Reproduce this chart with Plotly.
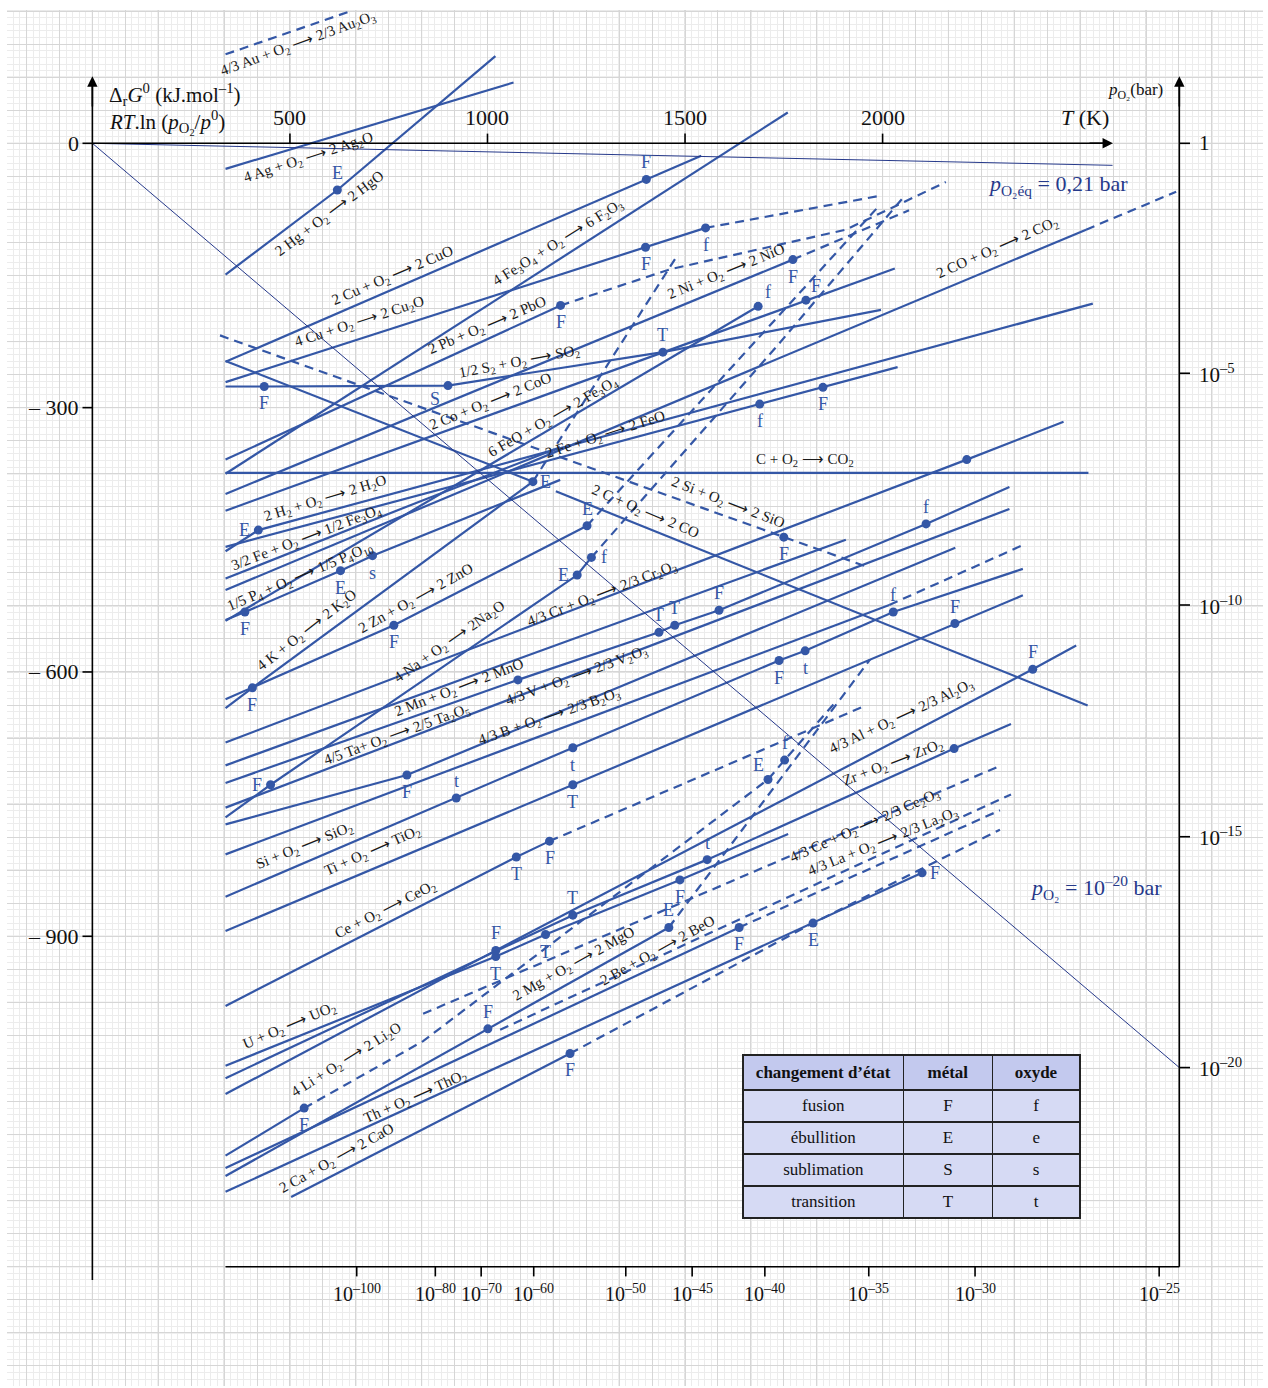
import plotly.graph_objects as go

BLUE = "#3457a6"
NAVY = "#26398a"
SERIF = "Liberation Serif, Times New Roman, serif"

# ---------- reaction lines : T (K), ΔrG° (kJ per mol O2) ----------
au_T, au_G = [337, 660], [101, 151]                      # dashed
ag_T, ag_G = [337, 1066], [-29, 69]
hg_T, hg_G = [337, 620, 1020], [-149, -53, 99]
cuo_T, cuo_G = [337, 1402, 1541], [-248, -41, -14]
cu2o_T, cu2o_G = [337, 1400, 1552], [-271, -118, -96]
cu2o_d_T, cu2o_d_G = [1552, 1988], [-96, -60]
fe2o3_T, fe2o3_G = [337, 1760], [-375, 35]
pbo_T, pbo_G = [337, 1185], [-359, -184]
pbo_d_T, pbo_d_G = [1185, 1462, 1907, 2160], [-184, -143, -98, -44]
nio_T, nio_G = [337, 1773], [-398, -132]
nio_d_T, nio_d_G = [1773, 2067], [-132, -76]
so2_T, so2_G = [337, 435, 900, 1444, 1996], [-276, -276, -275, -237, -189]
co2a_T, co2a_G = [337, 2515], [-507, -98]
co2a_d_T, co2a_d_G = [2515, 2743], [-98, -55]
co2b_T, co2b_G = [337, 2521], [-374, -374]
co1_T, co1_G = [337, 1115], [-247, -384]
co2_T, co2_G = [1173, 2519], [-395, -638]
sio_T, sio_G = [323, 1750, 1963], [-218, -447, -481]     # dashed
h2o_T, h2o_G = [337, 420, 2532], [-463, -439, -182]
feo_T, feo_G = [337, 1689, 1849, 2038], [-458, -296, -277, -254]
fe3o4_T, fe3o4_G = [337, 837, 1184], [-494, -405, -345]
feo2_T, feo2_G = [337, 1685], [-542, -185]
coo_T, coo_G = [337, 1806, 2031], [-417, -178, -142]
p4o10_T, p4o10_G = [337, 386, 628, 709, 1184], [-541, -532, -485, -468, -382]
k2o_T, k2o_G = [337, 405, 1115], [-641, -618, -384]
k2o_d_T, k2o_d_G = [1115, 1478], [-384, -129]
zno_T, zno_G = [337, 763, 1252], [-631, -547, -434]
zno_d_T, zno_d_G = [1252, 1993], [-434, -70]
na2o_T, na2o_G = [337, 451, 1227, 1263], [-765, -728, -490, -470]
na2o_d_T, na2o_d_G = [1263, 1731, 2057], [-470, -231, -59]
cr2o3_T, cr2o3_G = [337, 2213, 2458], [-680, -359, -316]
v2o3_T, v2o3_G = [337, 1907], [-706, -450]
mno_T, mno_G = [337, 1077, 1434, 1474, 1586, 2110, 2321], [-726, -609, -555, -547, -530, -432, -390]
ta2o5_T, ta2o5_G = [337, 2321], [-754, -415]
l824_T, l824_G = [337, 796, 2184], [-773, -717, -459]
b2o3_T, b2o3_G = [337, 2017], [-807, -524]
b2o3_d_T, b2o3_d_G = [2017, 2355], [-524, -456]
sio2_T = [337, 921, 1216, 1738, 1804, 2027, 2355]
sio2_G = [-855, -743, -686, -587, -576, -532, -483]
tio2_T, tio2_G = [337, 1216, 2183, 2355], [-894, -728, -545, -513]
ceo2_T, ceo2_G = [337, 1073, 1157], [-979, -810, -792]
ceo2_d_T, ceo2_d_G = [1157, 1958], [-792, -638]
uo2_T, uo2_G = [337, 1021, 1147, 1487, 1761], [-1047, -923, -898, -836, -784]
zro2_T, zro2_G = [337, 1216, 1556, 2181, 2325], [-1061, -876, -813, -687, -659]
al2o3_T, al2o3_G = [337, 1021, 2380, 2490], [-1079, -916, -597, -570]
li2o_T, li2o_G = [337, 536], [-1149, -1095]
li2o_d_T, li2o_d_G = [536, 837, 1710, 1752, 1883], [-1095, -1019, -722, -700, -633]
mgo_T, mgo_G = [337, 1001, 1459], [-1172, -1005, -890]
mgo_d_T, mgo_d_G = [1459, 1968], [-890, -586]
beo_T, beo_G = [337, 1637], [-1163, -890]
beo_d_T, beo_d_G = [1637, 2297], [-890, -757]
cao_T, cao_G = [503, 1209], [-1196, -1033]
cao_d_T, cao_d_G = [1209, 1824, 2297], [-1033, -885, -779]
tho2_T, tho2_G = [337, 2100], [-1190, -828]
ce2o3_T, ce2o3_G = [837, 2300], [-988, -706]           # dashed
la2o3_T, la2o3_G = [1032, 2325], [-1006, -739]         # dashed

solid_lines = [ag_T, ag_G, hg_T, hg_G, cuo_T, cuo_G, cu2o_T, cu2o_G, fe2o3_T, fe2o3_G,
               pbo_T, pbo_G, nio_T, nio_G, so2_T, so2_G, co2a_T, co2a_G, co2b_T, co2b_G,
               co1_T, co1_G, co2_T, co2_G, h2o_T, h2o_G, feo_T, feo_G, fe3o4_T, fe3o4_G,
               feo2_T, feo2_G, coo_T, coo_G, p4o10_T, p4o10_G, k2o_T, k2o_G, zno_T, zno_G,
               na2o_T, na2o_G, cr2o3_T, cr2o3_G, v2o3_T, v2o3_G, mno_T, mno_G,
               ta2o5_T, ta2o5_G, l824_T, l824_G, b2o3_T, b2o3_G, sio2_T, sio2_G,
               tio2_T, tio2_G, ceo2_T, ceo2_G, uo2_T, uo2_G, zro2_T, zro2_G,
               al2o3_T, al2o3_G, li2o_T, li2o_G, mgo_T, mgo_G, beo_T, beo_G,
               cao_T, cao_G, tho2_T, tho2_G]
dashed_lines = [au_T, au_G, cu2o_d_T, cu2o_d_G, pbo_d_T, pbo_d_G, nio_d_T, nio_d_G,
                co2a_d_T, co2a_d_G, sio_T, sio_G, k2o_d_T, k2o_d_G, zno_d_T, zno_d_G,
                na2o_d_T, na2o_d_G, b2o3_d_T, b2o3_d_G, ceo2_d_T, ceo2_d_G,
                li2o_d_T, li2o_d_G, mgo_d_T, mgo_d_G, beo_d_T, beo_d_G,
                cao_d_T, cao_d_G, ce2o3_T, ce2o3_G, la2o3_T, la2o3_G]

# ---------- changes of state (dots) ----------
pts_T = [620, 1402, 1400, 1552, 1185, 1773, 435, 900, 1444, 1750, 420, 1689, 1849, 1806,
         1685, 386, 628, 709, 405, 1115, 763, 1252, 451, 1227, 1263, 2213, 1077, 1434, 1474,
         1586, 2110, 796, 921, 1216, 1738, 1804, 2027, 1216, 2183, 1073, 1157, 1021, 1147,
         1487, 1216, 1556, 2181, 1021, 2380, 536, 1710, 1752, 1001, 1459, 1637, 1209, 1824, 2100]
pts_G = [-53, -41, -118, -96, -184, -132, -276, -275, -237, -447, -439, -296, -277, -178,
         -185, -532, -485, -468, -618, -384, -547, -434, -728, -490, -470, -359, -609, -555, -547,
         -530, -432, -717, -743, -686, -587, -576, -532, -728, -545, -810, -792, -923, -898,
         -836, -876, -813, -687, -916, -597, -1095, -722, -700, -1005, -890, -890, -1033, -885, -828]
pts_lbl = ["E", "F", "F", "f", "F", "F", "F", "S", "T", "F", "E", "f", "F", "F",
           "f", "F", "E", "s", "F", "E", "F", "E", "F", "E", "f", "", "", "T", "T",
           "F", "f", "F", "t", "t", "F", "t", "f", "T", "F", "T", "F", "T", "T",
           "F", "T", "t", "", "F", "F", "F", "E", "f", "F", "E", "F", "F", "E", "F"]
# label side: a = above, b = below, l = left, r = right
pts_side = ["a", "a", "b", "b", "b", "b", "b", "bl", "a", "b", "l", "b", "b", "ar",
            "ar", "b", "b", "b", "b", "r", "b", "a", "l", "l", "r", "a", "a", "a", "a",
            "a", "a", "b", "a", "b", "b", "b", "a", "b", "a", "b", "b", "b", "b",
            "b", "a", "a", "a", "a", "a", "b", "al", "a", "a", "a", "b", "b", "b", "r"]

# ---------- reaction labels : text, T, G, angle ----------
eq_labels = [
    ("4/3 Au + O<sub>2</sub> ⟶ 2/3 Au<sub>2</sub>O<sub>3</sub>", 520, 113, -20),
    ("4 Ag + O<sub>2</sub> ⟶ 2 Ag<sub>2</sub>O", 546, -17, -18),
    ("2 Hg + O<sub>2</sub> ⟶ 2 HgO", 601, -80, -37),
    ("2 Cu + O<sub>2</sub> ⟶ 2 CuO", 761, -151, -23),
    ("4 Cu + O<sub>2</sub> ⟶ 2 Cu<sub>2</sub>O", 677, -203, -18),
    ("4 Fe<sub>3</sub>O<sub>4</sub> + O<sub>2</sub> ⟶ 6 F<sub>2</sub>O<sub>3</sub>", 1178, -113, -32),
    ("2 Pb + O<sub>2</sub> ⟶ 2 PbO", 999, -207, -23),
    ("2 Ni + O<sub>2</sub> ⟶ 2 NiO", 1606, -146, -22),
    ("2 CO + O<sub>2</sub> ⟶ 2 CO<sub>2</sub>", 2292, -119, -24),
    ("1/2 S<sub>2</sub> + O<sub>2</sub> ⟶ SO<sub>2</sub>", 1082, -248, -11),
    ("2 Co + O<sub>2</sub> ⟶ 2 CoO", 1009, -294, -22),
    ("6 FeO + O<sub>2</sub> ⟶ 2 Fe<sub>3</sub>O<sub>4</sub>", 1168, -311, -30),
    ("2 Fe + O<sub>2</sub> ⟶ 2 FeO", 1299, -331, -18),
    ("C + O<sub>2</sub> ⟶ CO<sub>2</sub>", 1804, -359, 0),
    ("2 C + O<sub>2</sub> ⟶ 2 CO", 1399, -418, 23),
    ("2 Si + O<sub>2</sub> ⟶ 2 SiO", 1609, -408, 21),
    ("2 H<sub>2</sub> + O<sub>2</sub> ⟶ 2 H<sub>2</sub>O", 589, -404, -17),
    ("3/2 Fe + O<sub>2</sub> ⟶ 1/2 Fe<sub>3</sub>O<sub>4</sub>", 543, -448, -21),
    ("1/5 P<sub>4</sub> + O<sub>2</sub> ⟶ 1/5 P<sub>4</sub>O<sub>10</sub>", 525, -492, -23),
    ("4 K + O<sub>2</sub> ⟶ 2 K<sub>2</sub>O", 542, -553, -38),
    ("2 Zn + O<sub>2</sub> ⟶ 2 ZnO", 819, -517, -29),
    ("4 Na + O<sub>2</sub> ⟶ 2Na<sub>2</sub>O", 905, -566, -35),
    ("4/3 Cr + O<sub>2</sub> ⟶ 2/3 Cr<sub>2</sub>O<sub>3</sub>", 1292, -512, -21),
    ("2 Mn + O<sub>2</sub> ⟶ 2 MnO", 930, -618, -21),
    ("4/3 V + O<sub>2</sub> ⟶ 2/3 V<sub>2</sub>O<sub>3</sub>", 1227, -605, -20),
    ("4/3 B + O<sub>2</sub> ⟶ 2/3 B<sub>2</sub>O<sub>3</sub>", 1156, -651, -19),
    ("4/5 Ta+ O<sub>2</sub> ⟶ 2/5 Ta<sub>2</sub>O<sub>5</sub>", 771, -672, -20),
    ("Si + O<sub>2</sub> ⟶ SiO<sub>2</sub>", 538, -797, -22),
    ("Ti + O<sub>2</sub> ⟶ TiO<sub>2</sub>", 710, -803, -24),
    ("Ce + O<sub>2</sub> ⟶ CeO<sub>2</sub>", 742, -870, -27),
    ("U + O<sub>2</sub> ⟶ UO<sub>2</sub>", 500, -1002, -23),
    ("4 Li + O<sub>2</sub> ⟶ 2 Li<sub>2</sub>O", 644, -1040, -32),
    ("Th + O<sub>2</sub> ⟶ ThO<sub>2</sub>", 818, -1082, -24),
    ("2 Ca + O<sub>2</sub> ⟶ 2 CaO", 618, -1153, -29),
    ("2 Mg + O<sub>2</sub> ⟶ 2 MgO", 1221, -932, -29),
    ("2 Be + O<sub>2</sub> ⟶ 2 BeO", 1432, -917, -29),
    ("4/3 Al + O<sub>2</sub> ⟶ 2/3 Al<sub>2</sub>O<sub>3</sub>", 2047, -651, -25),
    ("Zr + O<sub>2</sub> ⟶ ZrO<sub>2</sub>", 2026, -703, -21),
    ("4/3 Ce + O<sub>2</sub> ⟶ 2/3 Ce<sub>2</sub>O<sub>3</sub>", 1955, -775, -24),
    ("4/3 La + O<sub>2</sub> ⟶ 2/3 La<sub>2</sub>O<sub>3</sub>", 2001, -793, -22),
]

# ---------- axes / scales ----------
T_ticks = [500, 1000, 1500, 2000]
G_ticks = [0, -300, -600, -900]
G_tick_text = ["0", "– 300", "– 600", "– 900"]
p_right_G = [0, -261, -524, -787, -1049]
p_right_text = ["1", "10<sup>–5</sup>", "10<sup>–10</sup>", "10<sup>–15</sup>", "10<sup>–20</sup>"]
p_bottom_T = [669, 868, 984, 1117, 1350, 1518, 1702, 1965, 2234, 2700]
p_bottom_exp = [100, 80, 70, 60, 50, 45, 40, 35, 30, 25]
p021_T, p021_G = [0, 2582], [0, -25]
p1e20_T, p1e20_G = [0, 2751], [0, -1049]
T_right_axis = 2751
G_bottom_axis = -1275
X_RANGE = [-216.1, 2962.8]
Y_RANGE = [-1410.4, 151.3]

table_header = ["changement d’état", "métal", "oxyde"]
table_rows = [["fusion", "ébullition", "sublimation", "transition"],
              ["F", "E", "S", "T"],
              ["f", "e", "s", "t"]]

fig = go.Figure()

# graph paper: darker line every two cells
cell_T, cell_G = 500 / 6, 37.5
for k in range(-1, 18):
    t = 2 * cell_T * k
    fig.add_shape(type="line", x0=t, x1=t, y0=Y_RANGE[0], y1=Y_RANGE[1], layer="below",
                  line=dict(color="#c4c4c4", width=1))
for k in range(-19, 3):
    g = 2 * cell_G * k
    fig.add_shape(type="line", x0=X_RANGE[0], x1=X_RANGE[1], y0=g, y1=g, layer="below",
                  line=dict(color="#c4c4c4", width=1))


def add_line(T, G, dash, width=2.2, color=BLUE):
    fig.add_trace(go.Scatter(x=T, y=G, mode="lines", hoverinfo="skip", showlegend=False,
                             line=dict(color=color, width=width, dash=dash)))


for i in range(0, len(solid_lines), 2):
    add_line(solid_lines[i], solid_lines[i + 1], "solid")
for i in range(0, len(dashed_lines), 2):
    add_line(dashed_lines[i], dashed_lines[i + 1], "9px,6px")

add_line(p021_T, p021_G, "solid", 1, NAVY)
add_line(p1e20_T, p1e20_G, "solid", 1, NAVY)

fig.add_trace(go.Scatter(x=pts_T, y=pts_G, mode="markers", hoverinfo="skip", showlegend=False,
                         marker=dict(color=BLUE, size=9)))

shift = {"a": (0, 17), "b": (0, -17), "l": (-14, 0), "r": (13, 0),
         "bl": (-13, -13), "ar": (10, 14), "al": (-10, 14)}
for t, g, lab, side in zip(pts_T, pts_G, pts_lbl, pts_side):
    if lab:
        dx, dy = shift[side]
        fig.add_annotation(x=t, y=g, text=lab, showarrow=False, xshift=dx, yshift=dy,
                           font=dict(family=SERIF, size=18, color=BLUE))

for txt, t, g, ang in eq_labels:
    fig.add_annotation(x=t, y=g, text=txt, showarrow=False, textangle=ang,
                       font=dict(family=SERIF, size=15, color="#1a1a1a"))

# axes lines
ax_line = dict(color="black", width=1.6)
fig.add_shape(type="line", x0=0, x1=0, y0=-1290, y1=72, line=ax_line)
fig.add_shape(type="line", x0=0, x1=2575, y0=0, y1=0, line=ax_line)
fig.add_shape(type="line", x0=T_right_axis, x1=T_right_axis, y0=G_bottom_axis, y1=72, line=ax_line)
fig.add_shape(type="line", x0=337, x1=T_right_axis, y0=G_bottom_axis, y1=G_bottom_axis, line=ax_line)
for (x, y, ax, ay) in [(0, 76, 0, 40), (2583, 0, 2520, 0), (T_right_axis, 76, T_right_axis, 40)]:
    fig.add_annotation(x=x, y=y, ax=ax, ay=ay, xref="x", yref="y", axref="x", ayref="y",
                       text="", showarrow=True, arrowhead=2, arrowsize=1.3, arrowwidth=1.6,
                       arrowcolor="black")

for t in T_ticks:
    fig.add_shape(type="line", x0=t, x1=t, y0=0, y1=11, line=ax_line)
    fig.add_annotation(x=t, y=29, text=str(t), showarrow=False,
                       font=dict(family=SERIF, size=22, color="#111"))
for g, txt in zip(G_ticks, G_tick_text):
    fig.add_shape(type="line", x0=-25, x1=0, y0=g, y1=g, line=ax_line)
    fig.add_annotation(x=-30, y=g, text=txt, showarrow=False, xanchor="right",
                       font=dict(family=SERIF, size=22, color="#111"))
for g, txt in zip(p_right_G, p_right_text):
    fig.add_shape(type="line", x0=T_right_axis, x1=T_right_axis + 27, y0=g, y1=g, line=ax_line)
    fig.add_annotation(x=T_right_axis + 45, y=g, text=txt, showarrow=False, xanchor="left",
                       font=dict(family=SERIF, size=21, color="#111"))
for t, e in zip(p_bottom_T, p_bottom_exp):
    fig.add_shape(type="line", x0=t, x1=t, y0=G_bottom_axis, y1=G_bottom_axis - 11, line=ax_line)
    fig.add_annotation(x=t, y=G_bottom_axis - 30, text=f"10<sup>–{e}</sup>", showarrow=False,
                       font=dict(family=SERIF, size=20, color="#111"))

fig.add_annotation(x=38, y=55, xanchor="left", showarrow=False,
                   text="Δ<sub>r</sub><i>G</i><sup>0</sup> (kJ.mol<sup>–1</sup>)",
                   font=dict(family=SERIF, size=21, color="#111"))
fig.add_annotation(x=38, y=24, xanchor="left", showarrow=False,
                   text="<i>RT</i>.ln (<i>p</i><sub>O<sub>2</sub></sub>/<i>p</i><sup>0</sup>)",
                   font=dict(family=SERIF, size=21, color="#111"))
fig.add_annotation(x=2512, y=29, showarrow=False, text="<i>T</i> (K)",
                   font=dict(family=SERIF, size=22, color="#111"))
fig.add_annotation(x=2640, y=59, showarrow=False, text="<i>p</i><sub>O₂</sub>(bar)",
                   font=dict(family=SERIF, size=17, color="#111"))
fig.add_annotation(x=2444, y=-47, showarrow=False,
                   text="<i>p</i><sub>O₂éq</sub> = 0,21 bar",
                   font=dict(family=SERIF, size=22, color=NAVY))
fig.add_annotation(x=2540, y=-845, showarrow=False,
                   text="<i>p</i><sub>O₂</sub> = 10<sup>–20</sup> bar",
                   font=dict(family=SERIF, size=22, color=NAVY))

fig.add_trace(go.Table(
    domain=dict(x=[0.586, 0.855], y=[0.10, 0.2405]),
    columnwidth=[161, 89, 88],
    header=dict(values=[f"<b>{h}</b>" for h in table_header], height=32,
                fill_color="#c3c9ee", line=dict(color="#222", width=1.5),
                font=dict(family=SERIF, size=17, color="#111"), align="center"),
    cells=dict(values=table_rows, height=32, fill_color="#d6daf4",
               line=dict(color="#222", width=1.5),
               font=dict(family=SERIF, size=17, color="#111"), align="center"),
))

fig.update_layout(
    width=1268, height=1388,
    margin=dict(l=7, r=5, t=10, b=2),
    paper_bgcolor="white", plot_bgcolor="white",
    xaxis=dict(range=X_RANGE, showticklabels=False, ticks="", zeroline=False,
               tick0=0, dtick=500 / 6, showgrid=True, gridcolor="#d6d6d6", gridwidth=1,
               minor=dict(dtick=500 / 30, showgrid=True, gridcolor="#ececec", gridwidth=1)),
    yaxis=dict(range=Y_RANGE, showticklabels=False, ticks="", zeroline=False,
               tick0=0, dtick=37.5, showgrid=True, gridcolor="#d6d6d6", gridwidth=1,
               minor=dict(dtick=7.5, showgrid=True, gridcolor="#ececec", gridwidth=1)),
    showlegend=False,
)

fig.write_html("out.html", config={"displayModeBar": False},
               post_script="document.body.style.margin='0';")
